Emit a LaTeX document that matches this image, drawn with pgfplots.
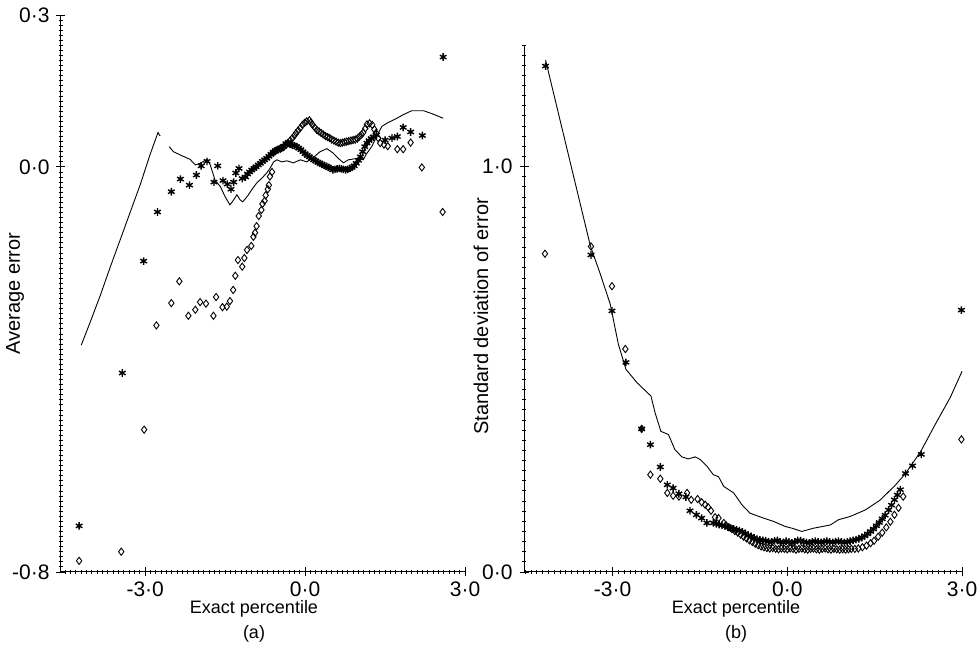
\documentclass[border=0pt]{standalone}
\usepackage{pgfplots}
\pgfplotsset{compat=1.18}
\usepackage{fontspec}
\setmainfont{Liberation Sans}
\begin{document}
\begin{tikzpicture}[x=1pt,y=1pt]
\useasboundingbox (0,0) rectangle (490,328);
\pgfplotsset{
  myax/.style={
    scale only axis, axis lines=left, axis line style={-, line width=0.5pt},
    enlargelimits=false, clip=false,
    tick style={black, line width=0.45pt},
    major tick length=4.5pt, minor tick length=2.4pt, tick align=center,
    tick label style={font=\fontsize{10.5}{12}\selectfont},
    xticklabel style={yshift=1pt},
    label style={font=\fontsize{9}{10}\selectfont},
    xlabel style={align=center, yshift=5pt},
  },
  stars/.style={only marks, mark=asterisk, mark size=1.9pt, mark options={line width=0.7pt, black}},
  diams/.style={only marks, mark=diamond, mark size=1.8pt, mark options={line width=0.45pt, black}},
  thinline/.style={black, line width=0.45pt, mark=none},
}
% ---------------- panel (a) ----------------
\begin{axis}[myax, at={(30.5pt,42pt)}, anchor=south west,
  width=202pt, height=278.5pt,
  xmin=-4.58, xmax=3.0, ymin=-0.8, ymax=0.3,
  xtick={-3,0,3}, xticklabels={-3·0,0·0,3·0},
  ytick={-0.8,0,0.3}, yticklabels={-0·8,0·0,0·3},
  minor xtick={-4.5,-4.4,...,3.0},
  minor ytick={-0.8,-0.79,...,0.3},
  xlabel={Exact percentile\\[2.5pt](a)}, ylabel={Average error},
  xlabel style={xshift=-4.5pt},
  every axis y label/.style={at={([xshift=-23pt]axis description cs:0,0.5)}, rotate=90, anchor=center},
]
\addplot[thinline] coordinates {(-4.20,-0.352) (-4.03,-0.306) (-3.84,-0.253) (-3.66,-0.199) (-3.47,-0.144) (-3.28,-0.089) (-3.09,-0.034) (-2.91,0.024) (-2.76,0.068) (-2.72,0.061)};
\addplot[thinline] coordinates {(-2.55,0.040) (-2.47,0.030) (-2.31,0.022) (-2.16,0.015) (-2.06,0.004) (-1.97,0.007) (-1.84,0.015) (-1.78,0.004) (-1.69,-0.026) (-1.59,-0.039) (-1.50,-0.059) (-1.41,-0.075) (-1.34,-0.065) (-1.28,-0.055) (-1.22,-0.065) (-1.17,-0.069) (-1.09,-0.059) (-1.00,-0.045) (-0.91,-0.032) (-0.81,-0.022) (-0.72,-0.012) (-0.66,-0.003) (-0.59,0.010) (-0.53,0.014) (-0.44,0.010) (-0.34,0.012) (-0.22,0.008) (-0.09,0.014) (0.03,0.010) (0.15,0.018) (0.28,0.030) (0.41,0.036) (0.53,0.027) (0.62,0.017) (0.72,0.008) (0.81,0.014) (0.99,0.017) (1.09,0.014) (1.16,0.027) (1.25,0.040) (1.34,0.060) (1.44,0.080) (1.53,0.086) (1.72,0.096) (1.84,0.103) (2.00,0.111) (2.22,0.111) (2.41,0.104) (2.59,0.096)};
\addplot[stars] table {
x y
-4.24 -0.709
-3.43 -0.407
-3.03 -0.186
-2.77 -0.089
-2.51 -0.049
-2.34 -0.024
-2.17 -0.036
-2.04 -0.016
-1.95 0.002
-1.84 0.011
-1.71 -0.030
-1.64 0.002
-1.54 -0.027
-1.46 -0.034
-1.39 -0.044
-1.34 -0.030
-1.30 -0.012
-1.24 -0.003
-1.18 -0.023
-1.12 -0.020
-1.08 -0.014
-1.04 -0.010
-1.00 -0.006
-0.96 -0.003
-0.92 0.000
-0.88 0.004
-0.84 0.007
-0.80 0.011
-0.76 0.014
-0.72 0.017
-0.68 0.021
-0.64 0.025
-0.60 0.029
-0.56 0.032
-0.52 0.034
-0.48 0.036
-0.44 0.037
-0.40 0.041
-0.36 0.046
-0.32 0.048
-0.28 0.045
-0.24 0.043
-0.20 0.042
-0.16 0.040
-0.12 0.037
-0.08 0.034
-0.04 0.030
0.00 0.026
0.04 0.023
0.08 0.020
0.12 0.017
0.16 0.014
0.20 0.012
0.24 0.009
0.28 0.007
0.32 0.005
0.36 0.003
0.40 0.001
0.44 -0.001
0.48 -0.003
0.52 -0.006
0.56 -0.005
0.60 -0.004
0.64 -0.003
0.68 -0.004
0.72 -0.005
0.76 -0.006
0.80 -0.005
0.84 -0.003
0.88 -0.001
0.92 0.002
0.96 0.007
1.00 0.013
1.04 0.020
1.08 0.030
1.12 0.040
1.16 0.047
1.20 0.052
1.24 0.056
1.28 0.059
1.34 0.063
1.50 0.053
1.63 0.057
1.73 0.060
1.84 0.078
1.98 0.069
2.20 0.062
2.59 0.217
};
\addplot[diams] table {
x y
-4.24 -0.778
-3.45 -0.760
-3.02 -0.519
-2.79 -0.313
-2.51 -0.269
-2.36 -0.226
-2.19 -0.294
-2.06 -0.282
-1.97 -0.267
-1.86 -0.270
-1.72 -0.294
-1.67 -0.257
-1.55 -0.277
-1.47 -0.276
-1.41 -0.265
-1.35 -0.243
-1.31 -0.215
-1.26 -0.184
-1.18 -0.197
-1.14 -0.180
-1.09 -0.164
-1.01 -0.156
-0.97 -0.138
-0.94 -0.130
-0.91 -0.117
-0.87 -0.097
-0.82 -0.085
-0.80 -0.073
-0.76 -0.067
-0.74 -0.056
-0.70 -0.044
-0.68 -0.036
-0.66 -0.019
-0.62 -0.010
-0.60 0.028
-0.56 0.031
-0.51 0.034
-0.46 0.036
-0.41 0.039
-0.36 0.043
-0.32 0.047
-0.28 0.052
-0.24 0.057
-0.20 0.062
-0.17 0.067
-0.13 0.072
-0.09 0.077
-0.05 0.083
-0.01 0.087
0.03 0.090
0.08 0.092
0.11 0.088
0.14 0.083
0.18 0.078
0.22 0.073
0.26 0.070
0.30 0.067
0.34 0.064
0.38 0.061
0.42 0.059
0.46 0.057
0.50 0.054
0.54 0.052
0.58 0.050
0.62 0.048
0.66 0.047
0.70 0.048
0.74 0.049
0.78 0.050
0.82 0.051
0.86 0.052
0.90 0.053
0.94 0.054
0.98 0.056
1.02 0.060
1.06 0.064
1.09 0.068
1.13 0.076
1.16 0.084
1.21 0.086
1.26 0.083
1.30 0.074
1.33 0.067
1.37 0.057
1.41 0.047
1.48 0.044
1.55 0.041
1.73 0.035
1.84 0.035
1.98 0.048
2.19 -0.001
2.58 -0.089
};
\end{axis}
% ---------------- panel (b) ----------------
\begin{axis}[myax, at={(262pt,42pt)}, anchor=south west,
  width=219pt, height=263.5pt,
  xmin=-4.52, xmax=3.0, ymin=0, ymax=1.3,
  xtick={-3,0,3}, xticklabels={-3·0,0·0,3·0},
  ytick={0,1}, yticklabels={0·0,1·0},
  minor xtick={-4.5,-4.4,...,3.0},
  minor ytick={0,0.025,...,1.3},
  xlabel={Exact percentile\\[2.5pt](b)}, ylabel={Standard deviation of error},
  xlabel style={xshift=-3.5pt},
  every axis y label/.style={at={([xshift=-21.5pt,yshift=-4pt]axis description cs:0,0.5)}, rotate=90, anchor=center},
]
\addplot[thinline] coordinates {(-4.15,1.263) (-3.38,0.804) (-3.21,0.735) (-3.04,0.661) (-2.90,0.562) (-2.77,0.500) (-2.58,0.467) (-2.34,0.434) (-2.27,0.393) (-2.17,0.347) (-2.04,0.339) (-1.93,0.302) (-1.81,0.284) (-1.70,0.279) (-1.58,0.284) (-1.49,0.277) (-1.38,0.261) (-1.27,0.240) (-1.18,0.235) (-1.09,0.211) (-0.92,0.195) (-0.78,0.166) (-0.64,0.145) (-0.41,0.133) (-0.24,0.125) (-0.03,0.112) (0.08,0.108) (0.25,0.100) (0.45,0.108) (0.74,0.116) (0.88,0.129) (1.08,0.137) (1.34,0.153) (1.60,0.178) (1.86,0.215) (2.03,0.243) (2.29,0.297) (2.54,0.364) (2.80,0.431) (3.00,0.495)};
\addplot[stars] table {
x y
-4.15 1.248
-3.37 0.782
-3.01 0.644
-2.77 0.517
-2.50 0.353
-2.35 0.314
-2.18 0.259
-2.06 0.215
-1.96 0.207
-1.86 0.193
-1.74 0.185
-1.67 0.151
-1.56 0.141
-1.47 0.133
-1.38 0.121
-1.27 0.121
-1.22 0.119
-1.17 0.117
-1.12 0.115
-1.07 0.113
-1.02 0.111
-0.97 0.108
-0.92 0.106
-0.87 0.104
-0.82 0.102
-0.77 0.099
-0.72 0.095
-0.67 0.091
-0.62 0.088
-0.57 0.084
-0.52 0.081
-0.47 0.079
-0.42 0.078
-0.37 0.077
-0.32 0.075
-0.27 0.074
-0.22 0.077
-0.17 0.078
-0.12 0.074
-0.07 0.073
-0.02 0.076
0.03 0.074
0.08 0.072
0.13 0.074
0.18 0.078
0.23 0.077
0.28 0.074
0.33 0.073
0.38 0.072
0.43 0.075
0.48 0.076
0.53 0.074
0.58 0.073
0.63 0.075
0.68 0.076
0.73 0.074
0.78 0.073
0.83 0.075
0.88 0.076
0.93 0.074
0.98 0.073
1.03 0.074
1.08 0.076
1.13 0.078
1.18 0.080
1.23 0.082
1.28 0.085
1.33 0.089
1.38 0.094
1.43 0.100
1.48 0.106
1.53 0.114
1.58 0.122
1.63 0.131
1.68 0.140
1.74 0.153
1.79 0.165
1.84 0.178
1.89 0.190
1.94 0.203
2.03 0.243
2.15 0.262
2.30 0.290
2.99 0.646
};
\addplot[diams] table {
x y
-4.16 0.785
-3.37 0.803
-3.01 0.705
-2.78 0.550
-2.50 0.353
-2.35 0.240
-2.18 0.230
-2.06 0.195
-1.96 0.188
-1.86 0.186
-1.72 0.195
-1.65 0.178
-1.54 0.180
-1.47 0.172
-1.41 0.166
-1.36 0.160
-1.31 0.151
-1.24 0.135
-1.18 0.133
-1.09 0.121
-1.05 0.115
-1.00 0.110
-0.95 0.106
-0.90 0.101
-0.85 0.097
-0.80 0.092
-0.75 0.087
-0.70 0.083
-0.65 0.078
-0.60 0.074
-0.55 0.070
-0.50 0.066
-0.45 0.063
-0.40 0.061
-0.35 0.059
-0.30 0.058
-0.25 0.059
-0.20 0.057
-0.15 0.056
-0.10 0.058
-0.05 0.057
0.00 0.056
0.05 0.058
0.10 0.057
0.15 0.055
0.20 0.057
0.25 0.058
0.30 0.056
0.35 0.055
0.40 0.057
0.45 0.058
0.50 0.056
0.55 0.055
0.60 0.057
0.65 0.058
0.70 0.056
0.75 0.055
0.80 0.057
0.85 0.056
0.90 0.055
0.95 0.056
1.00 0.055
1.05 0.056
1.10 0.057
1.16 0.057
1.22 0.058
1.29 0.061
1.36 0.065
1.43 0.071
1.49 0.077
1.56 0.087
1.63 0.097
1.70 0.110
1.77 0.124
1.84 0.141
1.91 0.158
1.99 0.186
2.99 0.327
};
\end{axis}
\end{tikzpicture}
\end{document}
